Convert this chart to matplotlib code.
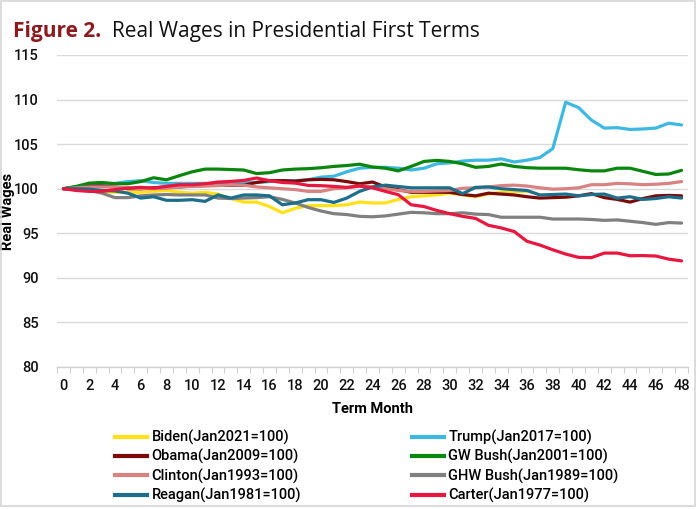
import matplotlib
matplotlib.use("Agg")
import matplotlib.pyplot as plt
from matplotlib.lines import Line2D
from matplotlib.patches import Rectangle

months = list(range(49))
xtick_labels = [str(m) for m in range(0, 49, 2)]
yticks = [80, 85, 90, 95, 100, 105, 110, 115]

biden = [100, 99.9, 99.8, 99.7, 99.6, 99.6, 99.6, 99.7, 99.8, 99.6, 99.5, 99.6, 99.4,
         98.9, 98.5, 98.5, 98.0, 97.3, 97.8, 98.1, 98.1, 98.1, 98.2, 98.5, 98.4, 98.4,
         98.8, 99.1, 99.2, 99.3, 99.5, 99.3, 99.1, 99.4, 99.6, 99.7, 99.7]
trump = [100, 100.2, 100.4, 100.5, 100.6, 100.8, 100.9, 100.7, 100.6, 100.6, 100.6, 100.6,
         100.5, 100.6, 100.7, 100.7, 100.8, 100.9, 100.9, 101.0, 101.3, 101.4, 101.9, 102.3,
         102.4, 102.4, 102.3, 102.1, 102.3, 102.8, 102.9, 103.1, 103.2, 103.2, 103.35, 103.0,
         103.2, 103.5, 104.5, 109.7, 109.1, 107.7, 106.8, 106.85, 106.65, 106.7, 106.8,
         107.35, 107.15]
obama = [100, 100.2, 100.3, 100.3, 100.2, 100.0, 100.0, 100.1, 100.2, 100.2, 100.3, 100.35,
         100.4, 100.4, 100.4, 100.7, 100.9, 100.9, 100.85, 101.0, 101.05, 101.0, 100.8, 100.55,
         100.75, 100.2, 99.9, 99.6, 99.6, 99.6, 99.6, 99.35, 99.2, 99.5, 99.4, 99.3, 99.1,
         98.95, 99.0, 99.05, 99.2, 99.45, 99.0, 98.8, 98.5, 98.9, 99.2, 99.25, 99.2]
gwbush = [100, 100.26, 100.63, 100.7, 100.56, 100.56, 100.8, 101.23, 101.0, 101.46, 101.9,
          102.2, 102.2, 102.15, 102.1, 101.7, 101.8, 102.1, 102.2, 102.25, 102.35, 102.5,
          102.6, 102.75, 102.43, 102.3, 102.0, 102.5, 103.06, 103.18, 103.06, 102.8, 102.4,
          102.5, 102.77, 102.5, 102.36, 102.3, 102.3, 102.3, 102.13, 102.0, 102.0, 102.3,
          102.3, 101.95, 101.6, 101.65, 102.06]
clinton = [100, 100.1, 100.2, 100.2, 100.2, 100.1, 100.0, 100.0, 100.05, 100.2, 100.25, 100.3,
           100.35, 100.45, 100.4, 100.2, 100.1, 100.0, 99.9, 99.7, 99.7, 100.0, 100.1, 100.3,
           100.2, 100.0, 99.8, 99.7, 99.7, 99.75, 99.8, 100.05, 100.1, 100.2, 100.35, 100.4,
           100.3, 100.1, 99.95, 100.0, 100.1, 100.45, 100.45, 100.6, 100.55, 100.45, 100.5,
           100.6, 100.8]
ghwbush = [100, 99.9, 99.8, 99.5, 99.0, 99.0, 99.2, 99.3, 99.35, 99.3, 99.3, 99.3, 98.95,
           98.9, 98.95, 99.0, 99.1, 98.8, 98.4, 97.9, 97.5, 97.2, 97.1, 96.9, 96.85, 96.95,
           97.15, 97.35, 97.3, 97.2, 97.2, 97.3, 97.15, 97.1, 96.8, 96.8, 96.8, 96.8, 96.6,
           96.6, 96.6, 96.55, 96.45, 96.5, 96.35, 96.2, 96.0, 96.2, 96.15]
reagan = [100, 100.0, 99.95, 99.8, 99.75, 99.5, 98.95, 99.1, 98.7, 98.7, 98.77, 98.58, 99.3,
          98.95, 99.3, 99.3, 99.2, 98.2, 98.4, 98.77, 98.77, 98.46, 98.95, 99.7, 100.2, 100.4,
          100.25, 100.1, 100.1, 100.1, 100.1, 99.45, 100.15, 100.2, 100.0, 99.9, 99.8, 99.3,
          99.35, 99.4, 99.2, 99.35, 99.4, 98.95, 99.1, 98.8, 98.9, 99.1, 98.95]
carter = [100, 99.8, 99.7, 99.7, 99.9, 100.07, 100.15, 100.07, 100.26, 100.45, 100.45, 100.56,
          100.75, 100.82, 100.93, 101.2, 100.9, 100.7, 100.63, 100.37, 100.34, 100.26, 100.15,
          100.3, 100.1, 99.7, 99.33, 98.2, 98.0, 97.56, 97.2, 96.9, 96.67, 95.9, 95.6, 95.2,
          94.1, 93.68, 93.15, 92.67, 92.3, 92.27, 92.78, 92.78, 92.48, 92.5, 92.45, 92.1, 91.9]

names = ["Biden(Jan2021=100)", "Trump(Jan2017=100)", "Obama(Jan2009=100)",
         "GW Bush(Jan2001=100)", "Clinton(Jan1993=100)", "GHW Bush(Jan1989=100)",
         "Reagan(Jan1981=100)", "Carter(Jan1977=100)"]
series = [biden, trump, obama, gwbush, clinton, ghwbush, reagan, carter]
colors = ["#FFE11A", "#3DB8E0", "#7A0A0A", "#0A860F", "#D98282", "#808080", "#1C6E8A", "#E8173F"]

W, H = 700, 509
fig = plt.figure(figsize=(7.0, 5.09), dpi=100)
fig.patches.append(Rectangle((0.5 / W, 3 / H), 694 / W, 505 / H, transform=fig.transFigure,
                             fill=False, edgecolor="#D6D6D6", linewidth=1.2))

ax = fig.add_axes([57 / W, 1 - 367 / H, 631 / W, 312 / H])
tickfont = dict(family="Roboto", weight="medium", size=10.5)

lines = {}
for name, vals, c in zip(names, series, colors):
    ln, = ax.plot(months[:len(vals)], vals, color=c, lw=2.3, solid_joinstyle="round",
                  solid_capstyle="round", zorder=3)
    lines[name] = ln

ax.set_xlim(-0.5, 48.5)
ax.set_ylim(80, 115)
ax.set_yticks(yticks)
ax.set_yticklabels([str(v) for v in yticks], fontdict=tickfont)
ax.set_xticks(list(range(0, 49, 2)))
ax.set_xticklabels(xtick_labels, fontdict=tickfont)
ax.set_xticks([m - 0.5 for m in range(50)], minor=True)
ax.tick_params(axis="y", length=0, pad=13, colors="#111111")
ax.tick_params(axis="x", which="major", length=0, pad=9, colors="#111111")
ax.tick_params(axis="x", which="minor", length=4, width=0.8, color="#D0D0D0", direction="out")
ax.grid(axis="y", color="#D9D9D9", lw=1.0, zorder=0)
for s in ["top", "right", "left"]:
    ax.spines[s].set_visible(False)
ax.spines["bottom"].set_color("#D0D0D0")
ax.spines["bottom"].set_linewidth(1.0)
ax.set_xlabel("Term Month", fontdict=dict(family="Roboto", weight="bold", size=10.5), labelpad=6)
ax.set_ylabel("Real Wages", fontdict=dict(family="Roboto", weight="bold", size=10.5))
ax.yaxis.set_label_coords(-0.066, 0.5)

# Title
t1 = fig.text(13 / W, 1 - 37 / H, "Figure 2.", fontdict=dict(family="Open Sans", weight="bold",
              size=15), color="#8C1A1F", va="baseline", ha="left")
fig.canvas.draw()
bb = t1.get_window_extent()
fig.text((bb.x1 + 11) / W, 1 - 37 / H, "Real Wages in Presidential First Terms",
         fontdict=dict(family="Open Sans", size=15), color="#111111", va="baseline", ha="left")

legfont = dict(family="Roboto", weight="medium", size=10.5)
col1 = [names[0], names[2], names[4], names[6]]
col2 = [names[1], names[3], names[5], names[7]]
for col, xl in [(col1, 115), (col2, 412)]:
    handles = [Line2D([], [], color=lines[n].get_color(), lw=3) for n in col]
    fig.legend(handles, col, loc="upper left", bbox_to_anchor=(xl / W, 1 - 430 / H),
               frameon=False, prop=legfont, handlelength=2.2, handletextpad=0.3,
               labelspacing=0.28, borderpad=0, borderaxespad=0)

fig.savefig("out.png", dpi=100)
